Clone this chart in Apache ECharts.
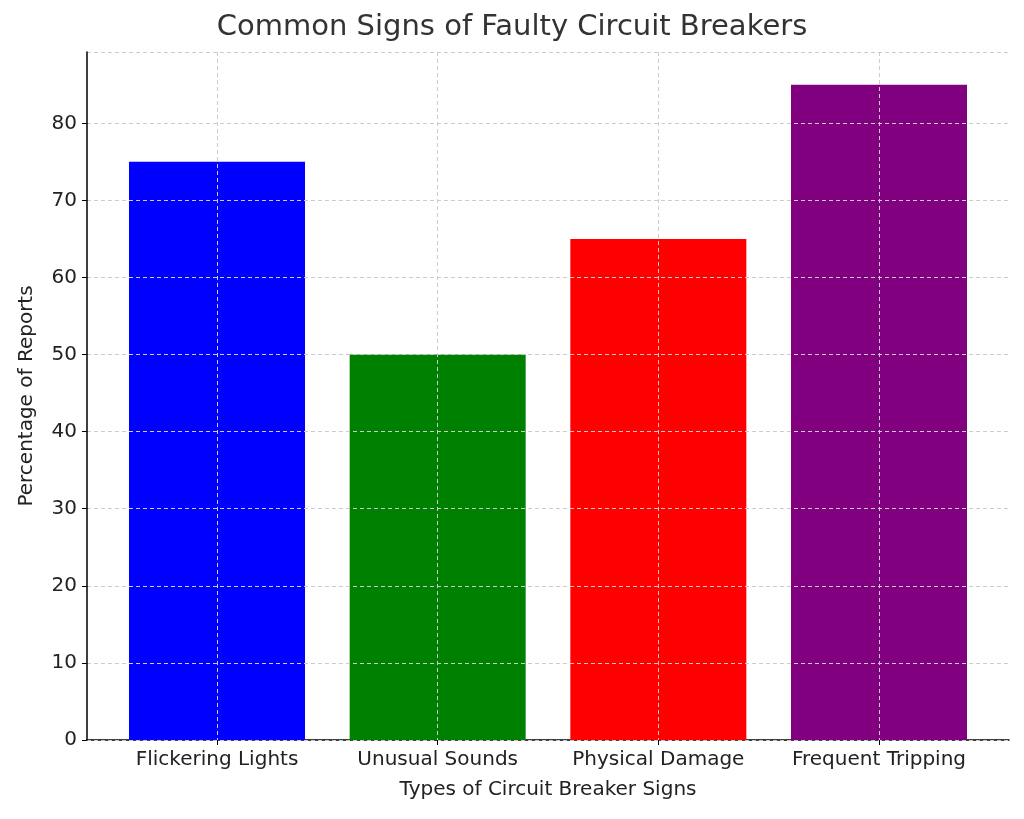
<!DOCTYPE html><html><head><meta charset="utf-8">
<script src="https://cdn.jsdelivr.net/npm/echarts@6/dist/echarts.min.js"></script>
<style>html,body{margin:0;background:#fff}#c{width:1024px;height:819px}</style></head><body><div id="c"></div>
<script>
const categories=["Flickering Lights","Unusual Sounds","Physical Damage","Frequent Tripping"];
const values=[75,50,65,85];
const colors=["#0000ff","#008000","#ff0000","#800080"];
const F="DejaVu Sans";
const dash={show:true,lineStyle:{type:[4,3],color:"#cccccc",width:1}};
const chart=echarts.init(document.getElementById('c'));
chart.setOption({
 animation:false,
 title:{text:"Common Signs of Faulty Circuit Breakers",left:"center",top:8,textStyle:{fontFamily:F,fontSize:29,fontWeight:"normal",color:"#333"}},
 grid:[{left:87,right:15,top:52,bottom:79},{left:217,right:145,top:52,bottom:79}],
 xAxis:[
  {gridIndex:0,type:"value",min:0,max:1,axisLine:{show:true,lineStyle:{color:"#000",width:1.5}},axisTick:{show:false},axisLabel:{show:false},splitLine:{show:false},
   name:"Types of Circuit Breaker Signs",nameLocation:"middle",nameGap:40,nameTextStyle:{fontFamily:F,fontSize:20,color:"#222"}},
  {gridIndex:1,type:"value",min:0,max:3,interval:1,z:3,axisLine:{show:false},axisTick:{show:true,length:5,lineStyle:{color:"#000"}},
   axisLabel:{fontFamily:F,fontSize:20,color:"#222",margin:10,formatter:v=>categories[v]||""},splitLine:dash}
 ],
 yAxis:[
  {gridIndex:0,type:"value",min:0,max:89.25,interval:10,z:3,axisLine:{show:true,lineStyle:{color:"#000",width:1.5}},axisTick:{show:true,length:5,lineStyle:{color:"#000"}},
   axisLabel:{fontFamily:F,fontSize:20,color:"#222",margin:10,showMaxLabel:false},splitLine:dash,
   name:"Percentage of Reports",nameLocation:"middle",nameGap:50,nameTextStyle:{fontFamily:F,fontSize:20,color:"#222"}},
  {gridIndex:1,type:"value",min:0,max:89.25,show:false,splitLine:{show:false}}
 ],
 series:[{type:"bar",xAxisIndex:1,yAxisIndex:1,barWidth:176,clip:false,z:2,
  data:values.map((v,i)=>({value:[i,v],itemStyle:{color:colors[i]}}))}]
});
</script></body></html>
